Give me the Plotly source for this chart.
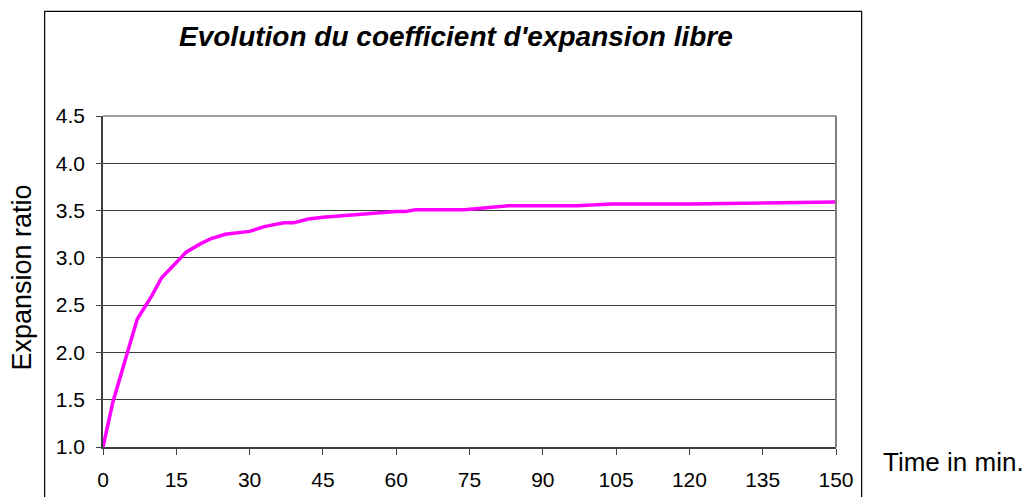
import plotly.graph_objects as go

time_min = [0, 2, 5, 7, 10, 12, 15, 17, 20, 22, 25, 30, 33, 35, 37, 39, 42, 45, 52,
            60, 62, 64, 74, 83, 97, 104, 120, 150]
expansion = [1.0, 1.47, 2.0, 2.35, 2.6, 2.79, 2.95, 3.06, 3.15, 3.20, 3.25, 3.28, 3.33,
             3.35, 3.37, 3.37, 3.41, 3.43, 3.46, 3.49, 3.49, 3.51, 3.51, 3.55, 3.55,
             3.57, 3.57, 3.59]
x_ticks = [0, 15, 30, 45, 60, 75, 90, 105, 120, 135, 150]
y_ticks = [1.0, 1.5, 2.0, 2.5, 3.0, 3.5, 4.0, 4.5]

title_text = "Evolution du coefficient d'expansion libre"
x_title = "Time in min."
y_title = "Expansion ratio"

FONT = "Liberation Sans, Arial, sans-serif"

fig = go.Figure()
fig.add_trace(go.Scatter(
    x=time_min, y=expansion, mode="lines",
    line=dict(color="#FF00FF", width=3.5),
    showlegend=False, hoverinfo="x+y",
))

fig.update_layout(
    width=1029, height=497,
    margin=dict(l=103, r=193, t=116, b=50, autoexpand=False),
    paper_bgcolor="white", plot_bgcolor="white",
    font=dict(family=FONT, color="black", size=20),
    showlegend=False,
)

fig.update_xaxes(
    range=[0, 150], tickmode="array", tickvals=x_ticks,
    ticktext=[str(v) for v in x_ticks],
    showgrid=False, zeroline=False, automargin=False,
    showline=True, linecolor="#404040", linewidth=1.5,
    ticks="outside", ticklen=6, tickcolor="#404040",
    tickfont=dict(family=FONT, size=21, color="black"),
    ticklabelstandoff=7,
    mirror=False,
)
fig.update_yaxes(
    range=[1.0, 4.5], tickmode="array", tickvals=y_ticks,
    ticktext=[f"{v:.1f}" for v in y_ticks],
    showgrid=True, gridcolor="#3c3c3c", gridwidth=1,
    zeroline=False, automargin=False,
    showline=True, linecolor="#404040", linewidth=1.5,
    ticks="outside", ticklen=5, tickcolor="#404040",
    tickfont=dict(family=FONT, size=21, color="black"),
    ticklabelstandoff=7,
)

# plot area right border (gray)
fig.add_shape(type="line", xref="paper", yref="paper", x0=1, x1=1, y0=0, y1=1,
              line=dict(color="#808080", width=2))
fig.add_shape(type="line", xref="paper", yref="paper", x0=0, x1=1, y0=1, y1=1,
              line=dict(color="#808080", width=1.5))

# chart outer box
fig.add_shape(type="rect", xref="paper", yref="paper",
              x0=-0.0796, x1=1.035, y0=-0.2, y1=1.316,
              line=dict(color="black", width=1.2), fillcolor="rgba(0,0,0,0)",
              layer="below")

fig.add_annotation(text=f"<b><i>{title_text}</i></b>", xref="paper", yref="paper",
                   x=0.4814, y=1.24, xanchor="center", yanchor="middle",
                   showarrow=False, font=dict(family=FONT, size=28, color="black"))
fig.add_annotation(text=x_title, xref="paper", yref="paper",
                   x=1.0614, y=-0.046, xanchor="left", yanchor="middle",
                   showarrow=False, font=dict(family=FONT, size=26, color="black"))
fig.add_annotation(text=y_title, xref="paper", yref="paper",
                   x=-0.111, y=0.511, xanchor="center", yanchor="middle",
                   textangle=-90,
                   showarrow=False, font=dict(family=FONT, size=27, color="black"))

fig.write_html("out.html", config={"displayModeBar": False},
               post_script="document.body.style.margin='0px';")
